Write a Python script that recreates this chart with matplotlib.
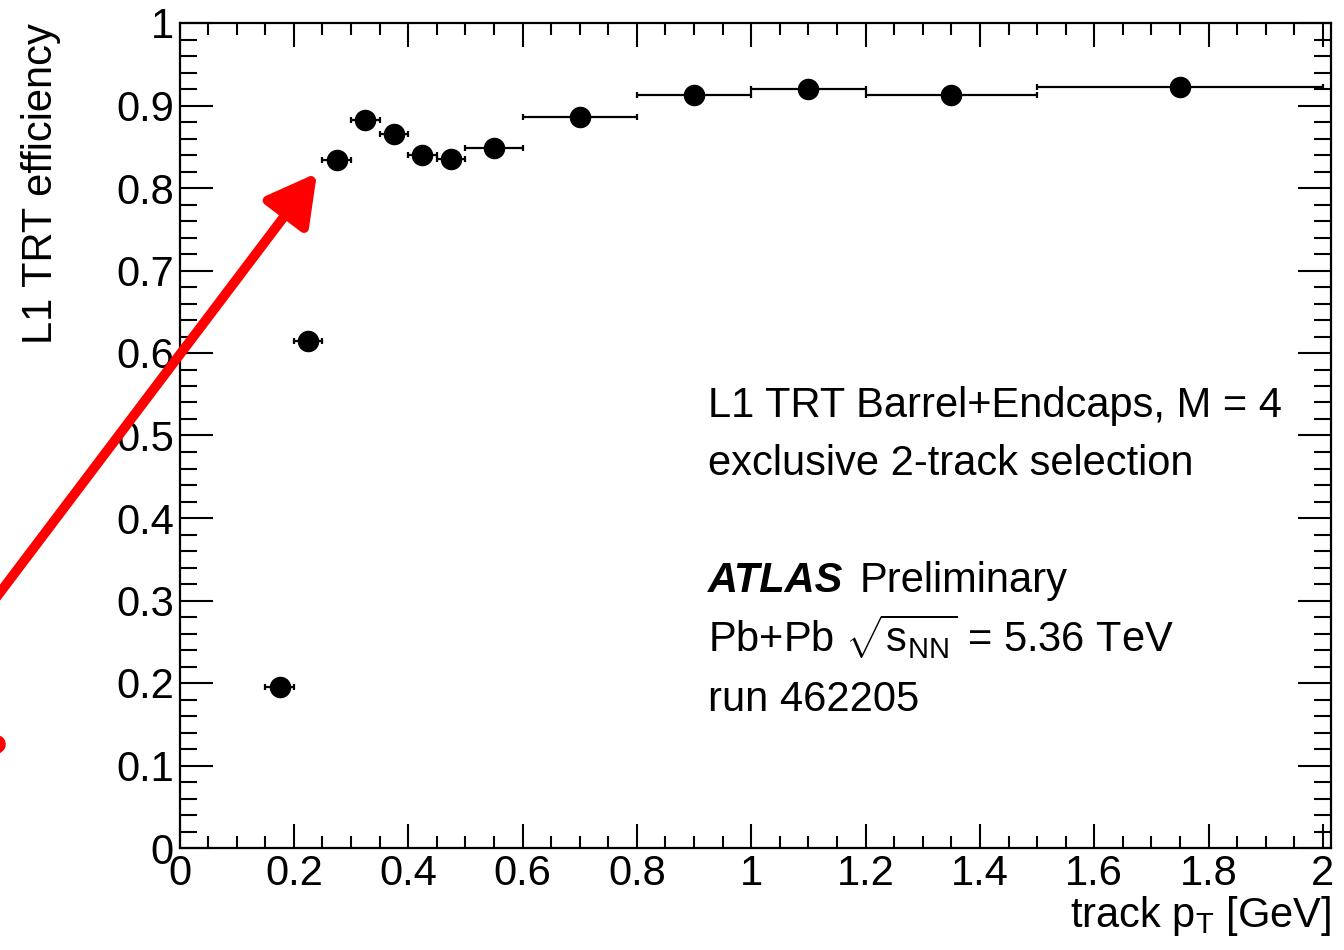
import numpy as np
import matplotlib
matplotlib.use("Agg")
import matplotlib.pyplot as plt
from matplotlib.patches import FancyArrowPatch
from matplotlib.ticker import MultipleLocator, FuncFormatter

plt.rcParams['font.family'] = ['Liberation Sans', 'DejaVu Sans']
plt.rcParams['mathtext.fontset'] = 'custom'
plt.rcParams['mathtext.rm'] = 'Liberation Sans'
plt.rcParams['mathtext.it'] = 'Liberation Sans:italic'
plt.rcParams['mathtext.bf'] = 'Liberation Sans:bold'

# track pT bins (GeV) and measured L1 TRT efficiency
bin_lo = [0.15, 0.20, 0.25, 0.30, 0.35, 0.40, 0.45, 0.50, 0.60, 0.80, 1.00, 1.20, 1.50]
bin_hi = [0.20, 0.25, 0.30, 0.35, 0.40, 0.45, 0.50, 0.60, 0.80, 1.00, 1.20, 1.50, 2.00]
eff = [0.195, 0.614, 0.834, 0.883, 0.865, 0.840, 0.835, 0.848, 0.886, 0.913, 0.920, 0.913, 0.922]

lo = np.array(bin_lo)
hi = np.array(bin_hi)
pt = 0.5 * (lo + hi)
pt_err = 0.5 * (hi - lo)

FS = 30

fig = plt.figure(figsize=(13.44, 9.5), dpi=100)
ax = fig.add_axes([179.5 / 1344, 1 - 848 / 950, (1331 - 179.5) / 1344, (848 - 23) / 950])

ax.errorbar(pt, eff, xerr=pt_err, fmt='o', color='black', markersize=14.5,
            elinewidth=1.6, capsize=2.5, capthick=1.6)

ax.set_xlim(0, 2.014)
ax.set_ylim(0, 1)
ax.xaxis.set_major_locator(MultipleLocator(0.2))
ax.xaxis.set_minor_locator(MultipleLocator(0.05))
ax.yaxis.set_major_locator(MultipleLocator(0.1))
ax.yaxis.set_minor_locator(MultipleLocator(0.02))
ax.xaxis.set_major_formatter(FuncFormatter(lambda v, p: f"{v:g}"))
ax.yaxis.set_major_formatter(FuncFormatter(lambda v, p: f"{v:g}"))

ax.tick_params(which='both', direction='in', top=True, right=True, width=1.5, labelsize=FS)
ax.tick_params(axis='x', which='major', length=17, pad=4)
ax.tick_params(axis='x', which='minor', length=8.5)
ax.tick_params(axis='y', which='major', length=24, pad=4)
ax.tick_params(axis='y', which='minor', length=12)
for s in ax.spines.values():
    s.set_linewidth(1.6)

ax.set_xlabel(r"track p$_{\mathrm{T}}$ [GeV]", fontsize=FS, loc='right', labelpad=0)
ax.set_ylabel("L1 TRT efficiency", fontsize=FS, loc='top', labelpad=40)

# annotation block
tx = 0.459
ax.text(tx, 0.522, "L1 TRT Barrel+Endcaps, M = 4", transform=ax.transAxes, fontsize=FS)
ax.text(tx, 0.452, "exclusive 2-track selection", transform=ax.transAxes, fontsize=FS)
atlas = ax.text(tx, 0.310, "ATLAS", transform=ax.transAxes, fontsize=FS,
                fontweight='bold', fontstyle='italic')
ax.annotate("Preliminary", xy=(1, 0), xycoords=atlas, xytext=(16, 0),
            textcoords='offset pixels', fontsize=FS, va='bottom')
ax.text(tx, 0.238, r"Pb+Pb $\sqrt{\mathrm{s}_{\mathrm{NN}}}$ = 5.36 TeV",
        transform=ax.transAxes, fontsize=FS)
ax.text(tx, 0.166, "run 462205", transform=ax.transAxes, fontsize=FS)

# red arrow pointing at the turn-on point
arrow = FancyArrowPatch((-20 / 1344, 1 - 619 / 950), (317 / 1344, 1 - 173 / 950),
                        transform=fig.transFigure,
                        arrowstyle='-|>,head_length=1.0,head_width=0.55',
                        mutation_scale=30, color='#ff0000', linewidth=7,
                        shrinkA=0, shrinkB=0, clip_on=False)
fig.add_artist(arrow)
fig.text(-22 / 1344, 1 - 770 / 950, "?", color='#ff0000', fontsize=36, fontweight='bold')

fig.savefig("out.png", dpi=100)
